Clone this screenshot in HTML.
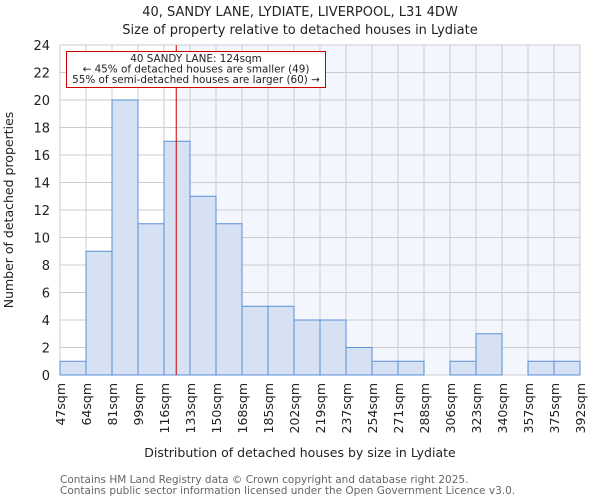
<!DOCTYPE html>
<html><head><meta charset="utf-8"><style>
body{margin:0;background:#fff;font-family:"DejaVu Sans","Liberation Sans",sans-serif;}
svg text{font-family:"DejaVu Sans","Liberation Sans",sans-serif;}
</style></head><body>
<svg id="chart" width="600" height="500" xmlns="http://www.w3.org/2000/svg">
<text x="300" y="16" text-anchor="middle" font-size="13" fill="#222">40, SANDY LANE, LYDIATE, LIVERPOOL, L31 4DW</text>
<text x="300" y="34" text-anchor="middle" font-size="13" fill="#222">Size of property relative to detached houses in Lydiate</text>
<g id="plot"></g>
<text x="300" y="457" text-anchor="middle" font-size="12.5" fill="#222">Distribution of detached houses by size in Lydiate</text>
<text transform="translate(13,210) rotate(-90)" text-anchor="middle" font-size="12.5" fill="#222">Number of detached properties</text>
<text x="60" y="483" font-size="10.5" fill="#666">Contains HM Land Registry data © Crown copyright and database right 2025.</text>
<text x="60" y="494" font-size="10.5" fill="#666">Contains public sector information licensed under the Open Government Licence v3.0.</text>
</svg>
<script>
const binEdges=[47,64,81,99,116,133,150,168,185,202,219,237,254,271,288,306,323,340,357,375,392];
const counts=[1,9,20,11,17,13,11,5,5,4,4,2,1,1,0,1,3,0,1,1];
const yTicks=[0,2,4,6,8,10,12,14,16,18,20,22,24];
const propertySize=124;
const NS="http://www.w3.org/2000/svg";
const g=document.getElementById('plot');
const L=60,R=580,T=45,B=375,yMax=24;
const nb=counts.length;
const xi=i=>L+(R-L)*i/nb;
function xv(v){for(let i=0;i<nb;i++){if(v<=binEdges[i+1]){return xi(i)+(v-binEdges[i])/(binEdges[i+1]-binEdges[i])*(xi(i+1)-xi(i));}}return R;}
const y=v=>B-(B-T)*v/yMax;
function mk(t,a){const e=document.createElementNS(NS,t);for(const k in a)e.setAttribute(k,a[k]);g.appendChild(e);return e;}
const px=xv(propertySize);
let e;
e=mk('rect',{x:L,y:T,width:R-L,height:B-T,fill:'#fff'});


e=mk('rect',{x:px,y:T,width:R-px,height:B-T,fill:'#f3f6fd'});


for(let i=0;i<=nb;i++){e=mk('line',{x1:xi(i),x2:xi(i),y1:T,y2:B,stroke:'#ccc','stroke-width':1});

}
yTicks.forEach(t=>{e=mk('line',{x1:L,x2:R,y1:y(t),y2:y(t),stroke:'#ccc','stroke-width':1});


e=mk('text',{x:L-10,y:y(t)+5,'text-anchor':'end','font-size':13,fill:'#222'});e.textContent=t;

});
counts.forEach((c,i)=>{if(c<=0)return;e=mk('rect',{x:xi(i),y:y(c),width:xi(i+1)-xi(i),height:B-y(c),fill:'#d6e1f3',stroke:'#5b8fd6','stroke-width':1});

});
binEdges.forEach((b,i)=>{e=mk('text',{transform:`translate(${xi(i)+5},${B+8}) rotate(-90)`,'text-anchor':'end','font-size':12.5,fill:'#222'});e.textContent=b+'sqm';

});
e=mk('line',{x1:px,x2:px,y1:T,y2:B,stroke:'#cc0000','stroke-width':1});


e=mk('rect',{x:66.5,y:51.5,width:259,height:36,fill:'#fff',stroke:'#cc0000','stroke-width':1});


['40 SANDY LANE: 124sqm','← 45% of detached houses are smaller (49)','55% of semi-detached houses are larger (60) →'].forEach((s,i)=>{e=mk('text',{x:196,y:62+i*10.5,'text-anchor':'middle','font-size':10.4,fill:'#222'});e.textContent=s;

});
</script>
</body></html>
